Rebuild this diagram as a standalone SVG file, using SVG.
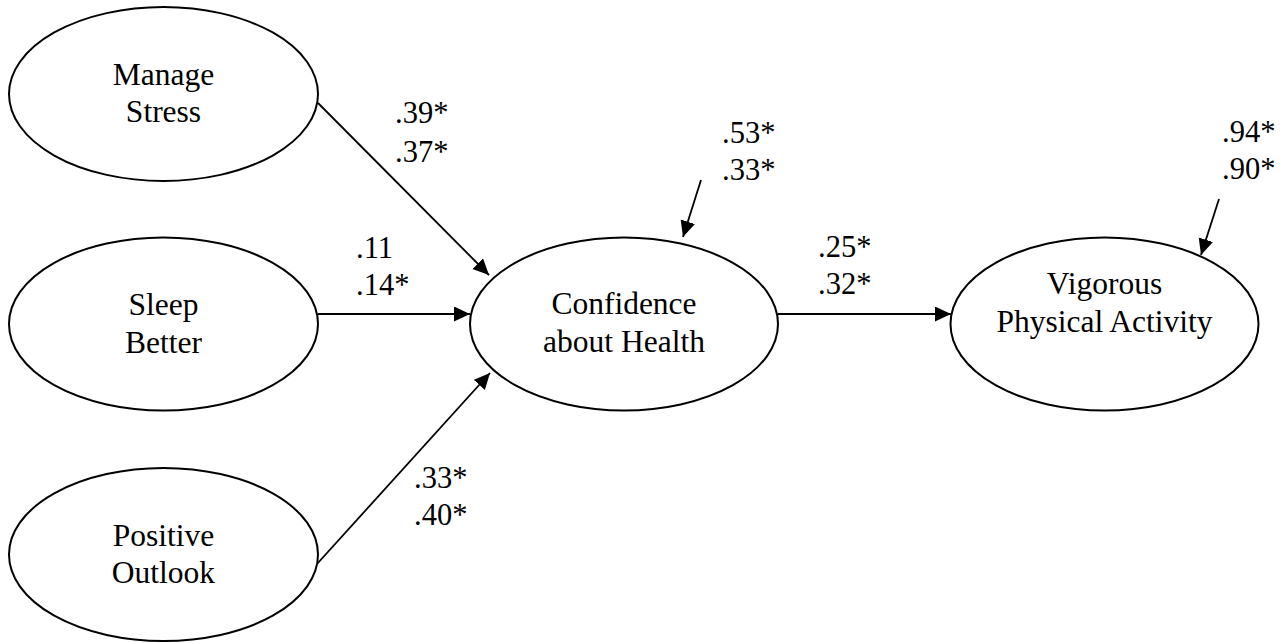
<svg xmlns="http://www.w3.org/2000/svg" width="1285" height="643" viewBox="0 0 1285 643">
<style>
.node ellipse{fill:#fff;stroke:#000;stroke-width:2}
.node text{font-size:31.5px;fill:#000;text-anchor:middle}
.lbl{font-size:30.5px;fill:#000}
#connectors line{stroke:#000;stroke-width:1.8;fill:none;marker-end:url(#arr)}
</style>
<defs>
<marker id="arr" markerUnits="userSpaceOnUse" markerWidth="18" markerHeight="16" refX="16" refY="7.5" orient="auto">
<path d="M0,0 L16,7.5 L0,15 z" fill="#000"/>
</marker>
</defs>
<rect width="1285" height="643" fill="#fff"/>
<g id="connectors">
<line x1="318" y1="103" x2="489" y2="275"/>
<line x1="318" y1="314" x2="470" y2="314"/>
<line x1="317" y1="564" x2="490" y2="373"/>
<line x1="778" y1="314" x2="951" y2="314"/>
<line x1="701" y1="180" x2="683" y2="237"/>
<line x1="1219" y1="199" x2="1201" y2="255"/>
</g>
<g id="labels" font-family="'Liberation Serif', 'Times New Roman', 'DejaVu Serif', serif">
<text class="lbl" x="395" y="123">.39*</text>
<text class="lbl" x="395" y="162">.37*</text>
<text class="lbl" x="356" y="258">.11</text>
<text class="lbl" x="356" y="295">.14*</text>
<text class="lbl" x="414" y="488">.33*</text>
<text class="lbl" x="414" y="525">.40*</text>
<text class="lbl" x="722" y="143">.53*</text>
<text class="lbl" x="722" y="180">.33*</text>
<text class="lbl" x="818" y="257">.25*</text>
<text class="lbl" x="818" y="294">.32*</text>
<text class="lbl" x="1222" y="142">.94*</text>
<text class="lbl" x="1222" y="179">.90*</text>
</g>
<g id="manage-stress" class="node" font-family="'Liberation Serif', 'Times New Roman', 'DejaVu Serif', serif">
<ellipse cx="163.5" cy="94" rx="154.5" ry="87"/>
<text x="163.5" y="85">Manage</text>
<text x="163.5" y="122">Stress</text>
</g>
<g id="sleep-better" class="node" font-family="'Liberation Serif', 'Times New Roman', 'DejaVu Serif', serif">
<ellipse cx="163.5" cy="324" rx="154.5" ry="86.5"/>
<text x="163.5" y="315">Sleep</text>
<text x="163.5" y="353">Better</text>
</g>
<g id="positive-outlook" class="node" font-family="'Liberation Serif', 'Times New Roman', 'DejaVu Serif', serif">
<ellipse cx="163.5" cy="554.5" rx="154.5" ry="86.5"/>
<text x="163.5" y="546">Positive</text>
<text x="163.5" y="583">Outlook</text>
</g>
<g id="confidence" class="node" font-family="'Liberation Serif', 'Times New Roman', 'DejaVu Serif', serif">
<ellipse cx="624" cy="324" rx="154" ry="86.5"/>
<text x="624" y="314">Confidence</text>
<text x="624" y="352">about Health</text>
</g>
<g id="vigorous" class="node" font-family="'Liberation Serif', 'Times New Roman', 'DejaVu Serif', serif">
<ellipse cx="1104.5" cy="324" rx="154" ry="86.5"/>
<text x="1104.5" y="294">Vigorous</text>
<text x="1104.5" y="332">Physical Activity</text>
</g>
</svg>
